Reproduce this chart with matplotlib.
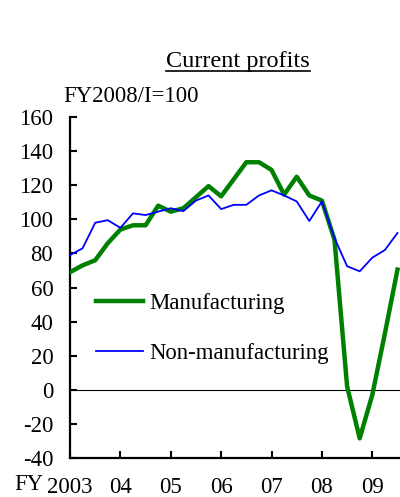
import matplotlib
matplotlib.use("Agg")
import matplotlib.pyplot as plt
from matplotlib.lines import Line2D

plt.rcParams['font.family'] = ['Liberation Serif', 'DejaVu Serif']
plt.rcParams['axes.unicode_minus'] = False

quarters = list(range(27))  # FY2003/I .. FY2009/III
manufacturing = [69, 73, 76, 86, 94, 96.5, 96.5, 108, 104.5, 106.5, 113, 119.5,
                 113.5, 123.5, 133.5, 133.5, 129, 114.5, 125, 114, 111, 88,
                 2, -28.5, -3, 33, 70.5]
non_manufacturing = [79, 83, 98, 99.5, 95, 103.5, 102.5, 104.5, 106.5, 104.8, 111, 114,
                     106, 108.5, 108.5, 114, 117, 114, 110.5, 99, 110.5, 89,
                     72.5, 69.5, 77.5, 82, 92]
year_ticks = [0, 4, 8, 12, 16, 20, 24]
year_labels = ['2003', '04', '05', '06', '07', '08', '09']
yticks = list(range(-40, 161, 20))

FS = 16.4

fig = plt.figure(figsize=(4.0, 4.97), dpi=100)
ax = fig.add_axes([0.175, 0.0785, 0.825, 0.686])

ax.plot(quarters, manufacturing, color='#008000', lw=3.2, label='Manufacturing',
        solid_joinstyle='round', zorder=3)
ax.plot(quarters, non_manufacturing, color='#0000FF', lw=1.3, label='Non-manufacturing',
        zorder=4)
ax.axhline(0, color='black', lw=0.8, zorder=2)

ax.set_xlim(0, 26.2)
ax.set_ylim(-40, 160)
ax.set_xticks(year_ticks)
ax.set_xticklabels(year_labels)
ax.set_yticks(yticks)
ax.tick_params(axis='both', direction='in', labelsize=FS, width=1.5, length=5,
               colors='black')
ax.tick_params(axis='y', pad=12)
ax.tick_params(axis='x', pad=14)
for s in ['top', 'right']:
    ax.spines[s].set_visible(False)
for s in ['left', 'bottom']:
    ax.spines[s].set_linewidth(1.6)

leg = ax.legend(loc='upper left', bbox_to_anchor=(0.05, 0.51), frameon=False,
                fontsize=FS, handlelength=2.1, labelspacing=1.25, handletextpad=0.25,
                borderaxespad=0)

fig.text(0.158, 0.805, 'FY2008/I=100', fontsize=FS, ha='left', va='center')
fig.text(0.035, 0.026, 'FY', fontsize=FS, ha='left', va='center')

title = fig.text(0.595, 0.877, 'Current profits', fontsize=17.5, ha='center', va='center')
fig.canvas.draw()
bb = title.get_window_extent(renderer=fig.canvas.get_renderer())
inv = fig.transFigure.inverted()
(x0, y0), (x1, y1) = inv.transform([[bb.x0, bb.y0], [bb.x1, bb.y1]])
fig.add_artist(Line2D([x0, x1], [y0 + 0.002, y0 + 0.002], color='black', lw=1.2,
                      transform=fig.transFigure))

fig.savefig('out.png', dpi=100)
